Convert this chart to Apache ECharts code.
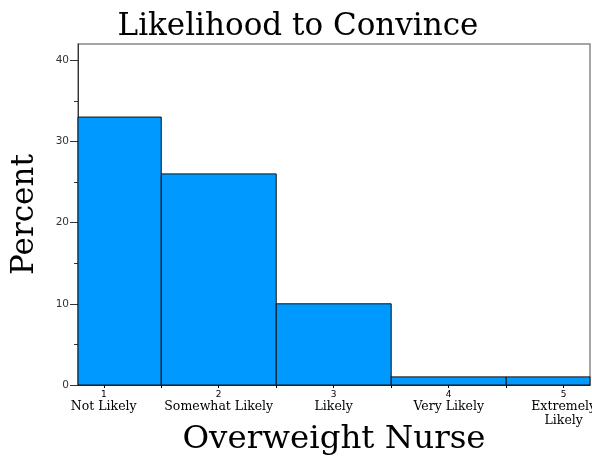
<!DOCTYPE html>
<html>
<head>
<meta charset="utf-8">
<script src="https://cdn.jsdelivr.net/npm/echarts@6/dist/echarts.min.js"></script>
<style>html,body{margin:0;padding:0;background:#fff}#c{width:592px;height:460px}</style>
</head>
<body>
<div id="c"></div>
<script>
const categories = ['Not Likely', 'Somewhat Likely', 'Likely', 'Very Likely', 'Extremely\nLikely'];
const codes = [1, 2, 3, 4, 5];
const percents = [33, 26, 10, 1, 1];
const yTicks = [0, 10, 20, 30, 40];
const yMinorTicks = [5, 15, 25, 35];
const binEdges = [1.5, 2.5, 3.5, 4.5];

const chart = echarts.init(document.getElementById('c'));
const serif = 'DejaVu Serif';
const sans = 'DejaVu Sans';

const labelOf = {};
codes.forEach((c, i) => {
  labelOf[c] = '{n|' + c + '}\n' + categories[i].split('\n').map(s => '{c|' + s + '}').join('\n');
});

chart.setOption({
  animation: false,
  title: {
    text: 'Likelihood to Convince',
    left: 293, textAlign: 'center', top: 6,
    textStyle: { fontFamily: serif, fontSize: 31, fontWeight: 'normal', color: '#000' }
  },
  grid: { left: 78, right: 2, top: 44, bottom: 75, show: true, borderColor: '#888', borderWidth: 1.5, backgroundColor: 'transparent', outerBoundsMode: 'none', containLabel: false },
  xAxis: [{
    type: 'value', min: 0.776, max: 5.229,
    name: 'Overweight Nurse', nameLocation: 'middle', nameGap: 38, nameMoveOverlap: false,
    nameTextStyle: { fontFamily: serif, fontSize: 32.5, color: '#000' },
    splitLine: { show: false },
    axisLine: { lineStyle: { color: '#333', width: 1 } },
    axisTick: { customValues: codes, length: 3, lineStyle: { color: '#000' } },
    axisLabel: {
      customValues: codes, margin: 4,
      formatter: v => labelOf[Math.round(v)] || '',
      rich: {
        n: { fontFamily: sans, fontSize: 9, color: '#000', lineHeight: 11, align: 'center' },
        c: { fontFamily: serif, fontSize: 12.5, color: '#000', lineHeight: 14, align: 'center' }
      }
    }
  }, {
    type: 'value', min: 0.776, max: 5.229, position: 'bottom',
    splitLine: { show: false }, axisLine: { show: false },
    axisLabel: { show: false },
    axisTick: { customValues: binEdges, length: 3, lineStyle: { color: '#000' } }
  }],
  yAxis: [{
    type: 'value', min: 0, max: 42,
    name: 'Percent', nameLocation: 'middle', nameGap: 38, nameRotate: 90, nameMoveOverlap: false,
    nameTextStyle: { fontFamily: serif, fontSize: 31, color: '#000' },
    splitLine: { show: false },
    axisLine: { show: true, lineStyle: { color: '#333', width: 1 } },
    axisTick: { customValues: yTicks, length: 8, lineStyle: { color: '#333' } },
    axisLabel: { customValues: yTicks, margin: 9, fontFamily: sans, fontSize: 10.5, color: '#333' }
  }, {
    type: 'value', min: 0, max: 42, position: 'left', offset: 0,
    splitLine: { show: false }, axisLine: { show: false },
    axisLabel: { show: false },
    axisTick: { customValues: yMinorTicks, length: 4, lineStyle: { color: '#333' } }
  }],
  series: [{
    type: 'custom',
    xAxisIndex: 0, yAxisIndex: 0,
    data: codes.map((c, i) => [c, percents[i]]),
    renderItem: function (params, api) {
      const x = api.value(0), y = api.value(1);
      const p0 = api.coord([x - 0.5, y]);
      const p1 = api.coord([x + 0.5, 0]);
      const rect = echarts.graphic.clipRectByRect(
        { x: p0[0], y: p0[1], width: p1[0] - p0[0], height: p1[1] - p0[1] },
        { x: params.coordSys.x, y: params.coordSys.y, width: params.coordSys.width, height: params.coordSys.height }
      );
      if (!rect) return;
      return { type: 'rect', shape: rect, style: { fill: '#0099FF', stroke: '#111', lineWidth: 1 } };
    }
  }]
});
</script>
</body>
</html>
